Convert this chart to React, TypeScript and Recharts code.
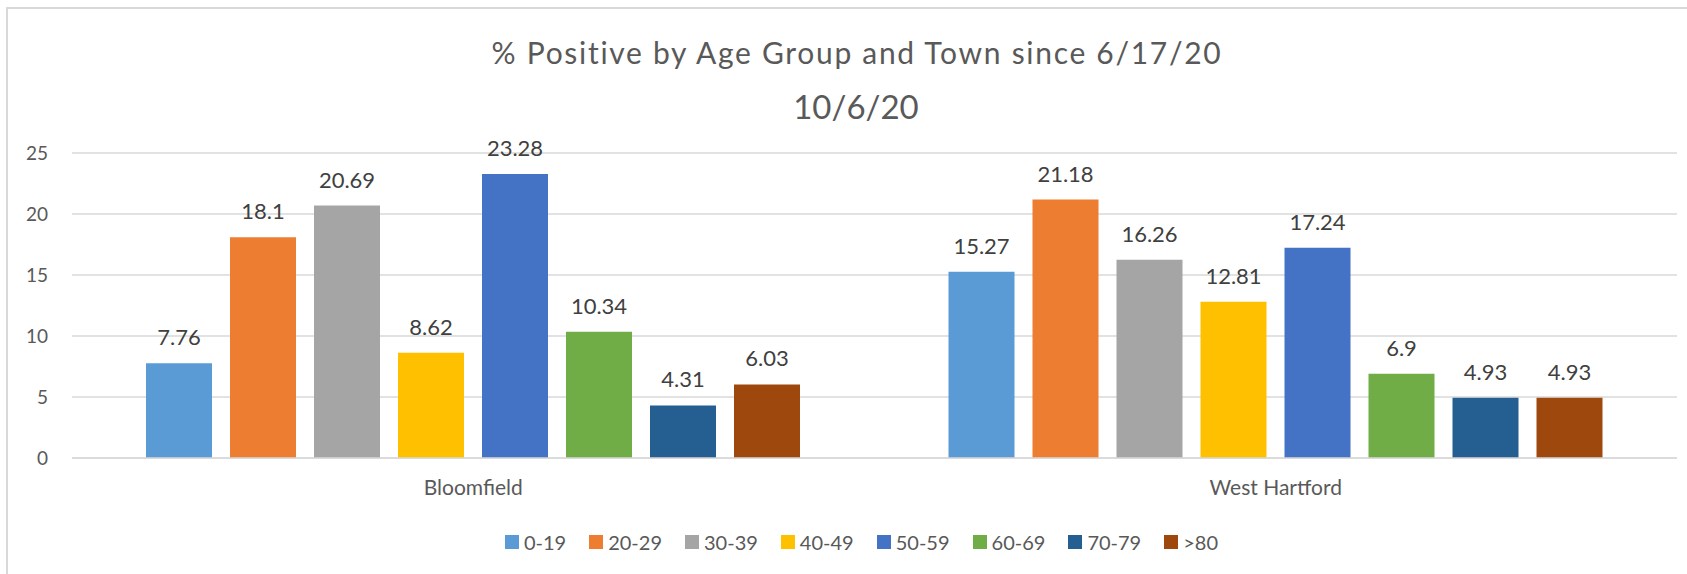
import React from 'react';
import { BarChart, Bar, XAxis, YAxis, CartesianGrid, Legend, LabelList } from 'recharts';

const towns = ['Bloomfield', 'West Hartford'];
const ageGroups = ['0-19', '20-29', '30-39', '40-49', '50-59', '60-69', '70-79', '>80'];
const bloomfield = [7.76, 18.1, 20.69, 8.62, 23.28, 10.34, 4.31, 6.03];
const westHartford = [15.27, 21.18, 16.26, 12.81, 17.24, 6.9, 4.93, 4.93];
const colors = ['#5B9BD5', '#ED7D31', '#A5A5A5', '#FFC000', '#4472C4', '#70AD47', '#255E91', '#9E480E'];
const yTicks = [0, 5, 10, 15, 20, 25];
const titleLine1 = '% Positive by Age Group and Town since 6/17/20';
const titleLine2 = '10/6/20';

const seriesByTown = [bloomfield, westHartford];
const data = towns.map((town, ti) => {
  const row: Record<string, string | number> = { town };
  ageGroups.forEach((_, gi) => {
    row['g' + gi] = seriesByTown[ti][gi];
  });
  return row;
});

const FONT = 'Lato, "Open Sans", sans-serif';

const renderLegend = (props: any) => {
  const payload = props.payload || [];
  return (
    <div
      style={{
        display: 'flex',
        justifyContent: 'center',
        alignItems: 'center',
        height: 30,
        paddingLeft: 36,
        fontFamily: FONT,
        fontSize: 20,
        color: '#595959',
      }}
    >
      {payload.map((p: any, i: number) => (
        <div
          key={i}
          style={{ display: 'flex', alignItems: 'center', marginRight: i === payload.length - 1 ? 0 : 23 }}
        >
          <div style={{ width: 14, height: 14, background: p.color, marginRight: 5 }} />
          <span>{p.value}</span>
        </div>
      ))}
    </div>
  );
};

export default function App() {
  return (
    <div
      style={{
        position: 'absolute',
        left: 0,
        top: 0,
        width: 1687,
        height: 574,
        overflow: 'hidden',
        background: '#ffffff',
      }}
    >
      <div
        style={{
          position: 'absolute',
          left: 6,
          top: 7,
          width: 1720,
          height: 620,
          border: '2px solid #d9d9d9',
          boxSizing: 'border-box',
        }}
      />
      <svg style={{ position: 'absolute', left: 0, top: 0 }} width={1687} height={140}>
        <text
          x={857}
          y={64}
          textAnchor="middle"
          fill="#595959"
          fontSize={30}
          letterSpacing={1.7}
          fontFamily={FONT}
        >
          {titleLine1}
        </text>
        <text
          x={856}
          y={119}
          textAnchor="middle"
          fill="#595959"
          fontSize={33}
          fontFamily={FONT}
        >
          {titleLine2}
        </text>
      </svg>
      <div style={{ position: 'absolute', left: 0, top: 0 }}>
        <BarChart
          width={1687}
          height={574}
          data={data}
          margin={{ top: 153, right: 10, left: 0, bottom: 17 }}
          barSize={66}
          barGap={18}
          style={{ fontFamily: FONT }}
        >
          <CartesianGrid vertical={false} stroke="#d9d9d9" strokeWidth={1.5} />
          <XAxis
            dataKey="town"
            height={69}
            axisLine={{ stroke: '#d9d9d9', strokeWidth: 1.5 }}
            tickLine={false}
            tickSize={0}
            tickMargin={22}
            tick={{ fill: '#595959', fontSize: 21, fontFamily: FONT }}
          />
          <YAxis
            width={72}
            domain={[0, 25]}
            ticks={yTicks}
            interval={0}
            axisLine={false}
            tickLine={false}
            tickSize={0}
            tickMargin={24}
            tick={{ fill: '#595959', fontSize: 19, fontFamily: FONT }}
          />
          <Legend
            verticalAlign="bottom"
            content={renderLegend}
            wrapperStyle={{ left: 0, width: 1687 }}
          />
          {ageGroups.map((g, gi) => (
            <Bar key={g} dataKey={'g' + gi} name={g} fill={colors[gi]} isAnimationActive={false}>
              <LabelList
                dataKey={'g' + gi}
                position="top"
                offset={18}
                fill="#404040"
                fontSize={22}
                fontFamily={FONT}
              />
            </Bar>
          ))}
        </BarChart>
      </div>
    </div>
  );
}
